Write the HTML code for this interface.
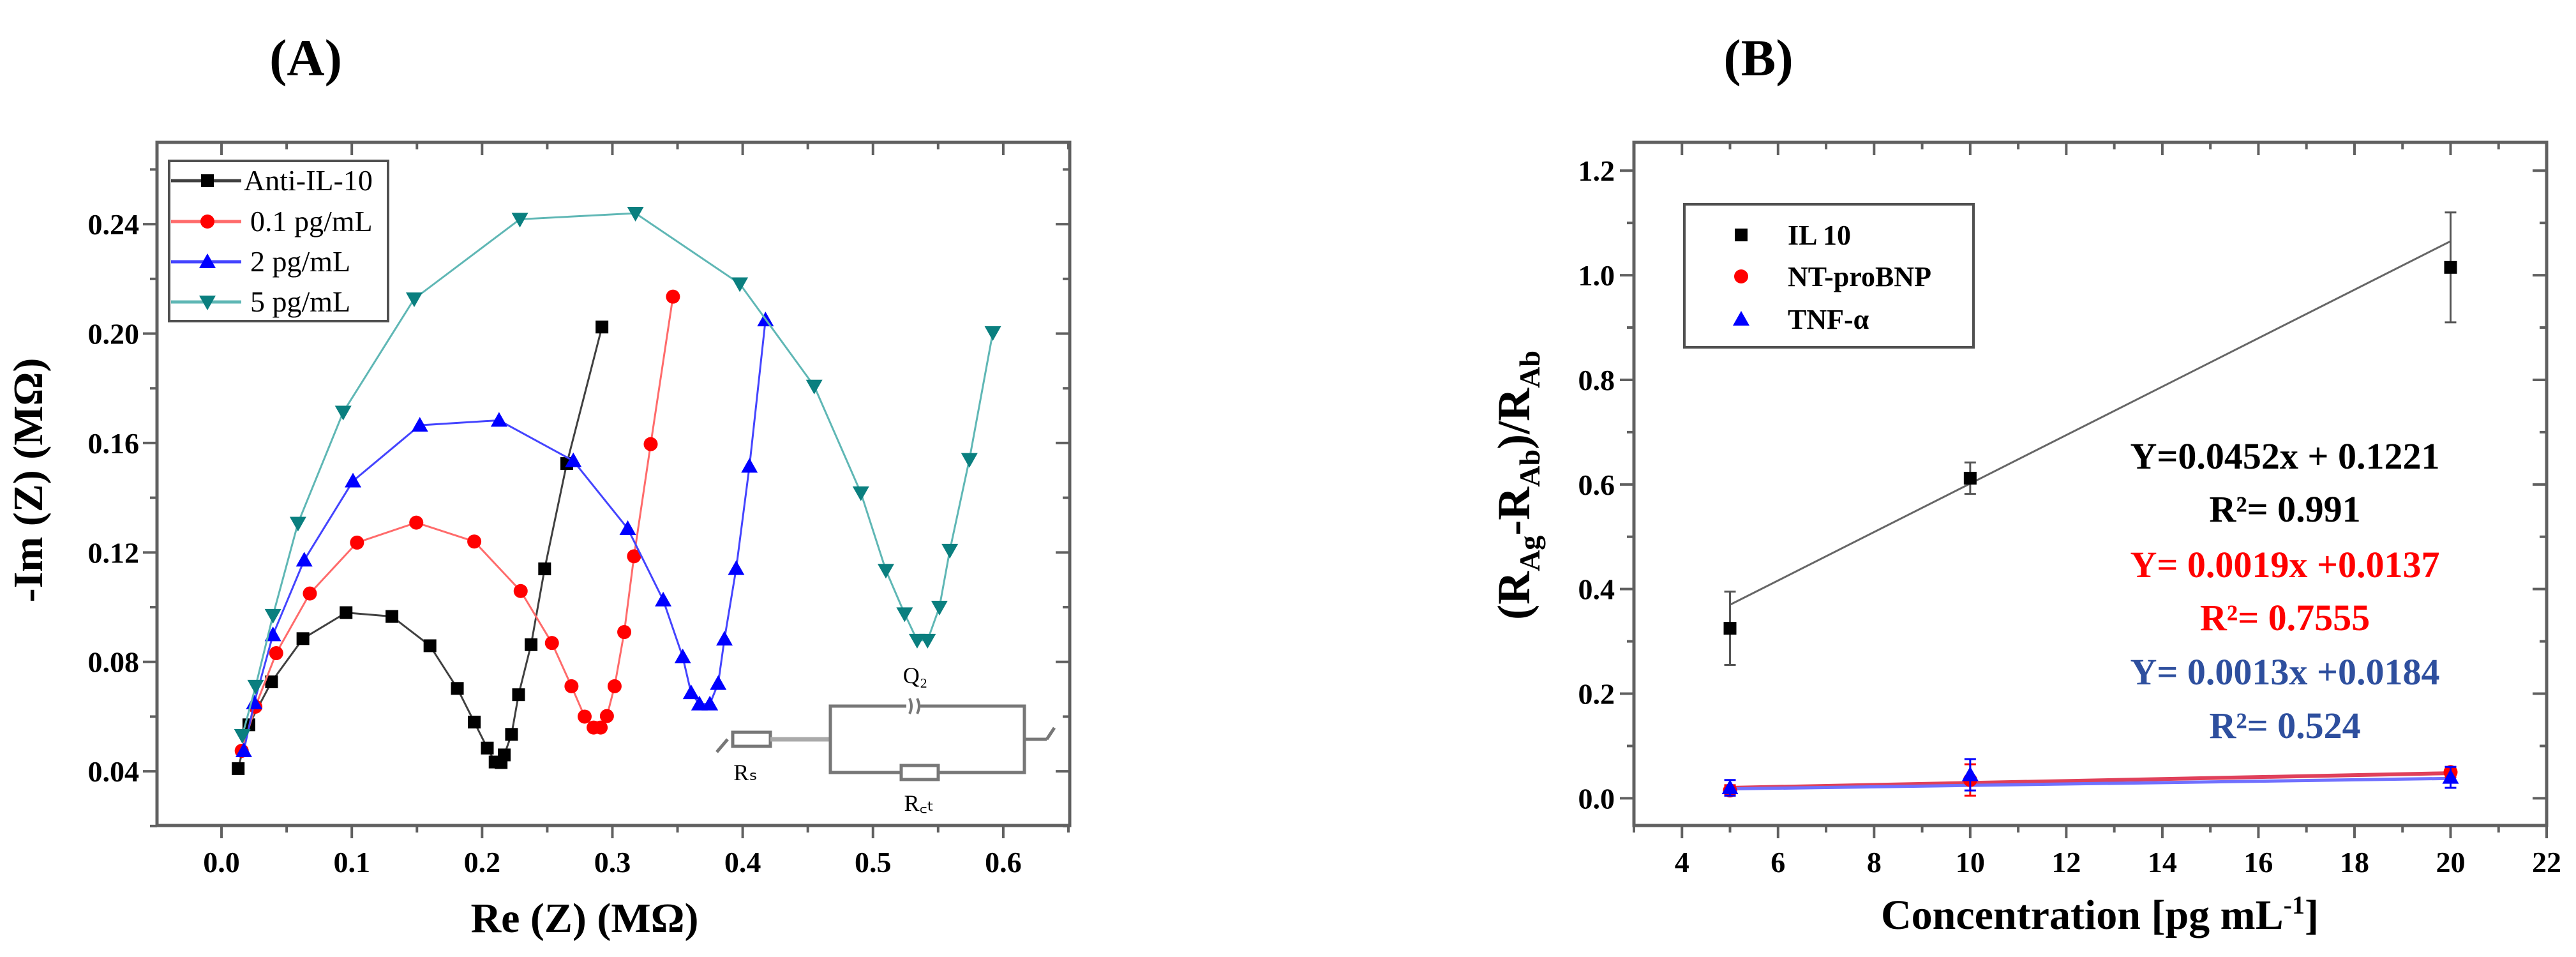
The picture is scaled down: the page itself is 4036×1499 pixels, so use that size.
<!DOCTYPE html>
<html><head><meta charset="utf-8"><style>
html,body{margin:0;padding:0;background:#fff;}
svg{display:block;font-family:"Liberation Serif",serif;}
</style></head><body>
<svg id="svg" width="4036" height="1499" viewBox="0 0 4036 1499" xmlns="http://www.w3.org/2000/svg">
<text x="479" y="118" font-size="82" font-weight="bold" text-anchor="middle">(A)</text>
<text x="2755" y="118" font-size="82" font-weight="bold" text-anchor="middle">(B)</text>
<g id="ga"></g>
<g id="gb"></g>
</svg>
<script>
// ---------- Chart A data ----------
const aSeriesNames = ["Anti-IL-10","0.1 pg/mL","2 pg/mL","5 pg/mL"];
const aBlackX = [0.0128,0.021,0.0384,0.0625,0.0956,0.1308,0.160,0.181,0.194,0.204,0.210,0.2146,0.217,0.2226,0.228,0.2376,0.248,0.265,0.292];
const aBlackY = [0.041,0.057,0.0727,0.0885,0.098,0.0966,0.0859,0.0703,0.058,0.0485,0.0434,0.0432,0.046,0.0535,0.068,0.0863,0.114,0.1525,0.2024];
const aRedX = [0.0155,0.026,0.042,0.0678,0.104,0.1495,0.194,0.2296,0.2536,0.2686,0.2787,0.2856,0.291,0.2958,0.3017,0.3091,0.3166,0.3294,0.3465];
const aRedY = [0.0475,0.0636,0.0832,0.105,0.1236,0.1309,0.124,0.1059,0.0869,0.0711,0.060,0.056,0.056,0.0602,0.0711,0.0909,0.1186,0.1596,0.2135];
const aBlueX = [0.0171,0.0251,0.0395,0.0635,0.1009,0.1522,0.213,0.270,0.3118,0.339,0.354,0.3604,0.3668,0.3748,0.3812,0.386,0.395,0.4052,0.4175];
const aBlueY = [0.0475,0.065,0.0899,0.1172,0.1461,0.1665,0.1683,0.1535,0.1287,0.1026,0.0818,0.0687,0.0646,0.0646,0.0721,0.0883,0.1141,0.1515,0.205];
const aTealX = [0.016,0.0262,0.0395,0.0587,0.0934,0.1479,0.229,0.3177,0.3978,0.4549,0.4907,0.5099,0.5243,0.5339,0.5419,0.551,0.559,0.574,0.592];
const aTealY = [0.0531,0.0711,0.097,0.1307,0.1713,0.2127,0.2418,0.244,0.2182,0.1808,0.1418,0.1135,0.0976,0.0879,0.0879,0.100,0.1208,0.154,0.2004];
const aXTicks = ["0.0","0.1","0.2","0.3","0.4","0.5","0.6"];
const aYTicks = ["0.04","0.08","0.12","0.16","0.20","0.24"];
// ---------- Chart B data ----------
const bSeriesNames = ["IL 10","NT-proBNP","TNF-α"];
const bX = [5,10,20];
const bIL10 = [0.325,0.612,1.015];
const bIL10Err = [0.07,0.03,0.105];
const bNT = [0.015,0.035,0.05];
const bNTErr = [0.01,0.03,0.01];
const bTNF = [0.02,0.045,0.04];
const bTNFErr = [0.015,0.03,0.02];
const bIL10Fit = [0.37,1.065];
const bNTFit = [0.02,0.048];
const bTNFFit = [0.018,0.038];
const bXTicks = ["4","6","8","10","12","14","16","18","20","22"];
const bYTicks = ["0.0","0.2","0.4","0.6","0.8","1.0","1.2"];

const NS="http://www.w3.org/2000/svg";
function mk(parent,tag,attrs,text){const e=document.createElementNS(NS,tag);for(const k in attrs)e.setAttribute(k,attrs[k]);if(text!==undefined)e.textContent=text;parent.appendChild(e);return e;}

// ---------- Chart A ----------
const ga=document.getElementById('ga');
const A={l:246,r:1676,t:223,b:1293,x0:-0.0495,x1:0.651,y0:0.0202,y1:0.2699};
const ax=v=>A.l+(v-A.x0)/(A.x1-A.x0)*(A.r-A.l);
const ay=v=>A.b-(v-A.y0)/(A.y1-A.y0)*(A.b-A.t);
const AX="#606060";
for(let i=0;i<=13;i++){const v=i*0.05;const x=ax(v);const maj=i%2===0;
  const t1=mk(ga,'line',{x1:x,x2:x,y1:A.b,y2:A.b+(maj?20:11),stroke:AX,'stroke-width':4});
  
  mk(ga,'line',{x1:x,x2:x,y1:A.t,y2:A.t+(maj?20:11),stroke:AX,'stroke-width':4});}
aXTicks.forEach(s=>{const t=mk(ga,'text',{x:ax(parseFloat(s)),y:1366,'font-size':46,'font-weight':'bold','text-anchor':'middle'},s);
  });
for(let v=0.02;v<=0.2601;v+=0.02){const y=ay(v);const maj=Math.round(v*100)%4===0;
  mk(ga,'line',{x1:A.l,x2:A.l-(maj?22:11),y1:y,y2:y,stroke:AX,'stroke-width':4});
  mk(ga,'line',{x1:A.r,x2:A.r-(maj?22:11),y1:y,y2:y,stroke:AX,'stroke-width':4});}
aYTicks.forEach(s=>{const t=mk(ga,'text',{x:218,y:ay(parseFloat(s))+16,'font-size':46,'font-weight':'bold','text-anchor':'end'},s);
  });
const fa=mk(ga,'rect',{x:A.l,y:A.t,width:A.r-A.l,height:A.b-A.t,fill:'none',stroke:AX,'stroke-width':5});

const xta=mk(ga,'text',{x:916,y:1460,'font-size':66,'font-weight':'bold','text-anchor':'middle'},'Re (Z) (MΩ)');

const yta=mk(ga,'text',{x:0,y:0,'font-size':66,'font-weight':'bold','text-anchor':'middle',transform:'translate(66,752) rotate(-90)'},'-Im (Z) (MΩ)');


function markerA(g,type,x,y,c){
  if(type==='sq')return mk(g,'rect',{x:x-10,y:y-10,width:20,height:20,fill:c});
  if(type==='ci')return mk(g,'circle',{cx:x,cy:y,r:11,fill:c});
  if(type==='up')return mk(g,'polygon',{points:`${x},${y-13} ${x-13},${y+10} ${x+13},${y+10}`,fill:c});
  return mk(g,'polygon',{points:`${x},${y+13} ${x-13},${y-10} ${x+13},${y-10}`,fill:c});
}
const aSets=[[aBlackX,aBlackY,'#000','#404040','sq','series-anti-il10'],[aRedX,aRedY,'#ff0000','#ff6b6b','ci','series-0-1-pgml'],
  [aBlueX,aBlueY,'#0000ff','#4444ff','up','series-2-pgml'],[aTealX,aTealY,'#0a7f7f','#5fb7b5','dn','series-5-pgml']];
aSets.forEach(([X,Y,c,lc,m,name])=>{
  const g=mk(ga,'g',{});
  mk(g,'polyline',{points:X.map((v,i)=>ax(v)+','+ay(Y[i])).join(' '),fill:'none',stroke:lc,'stroke-width':3});
  X.forEach((v,i)=>{const p=markerA(g,m,ax(v),ay(Y[i]),c);});
});
// legend A
const la=mk(ga,'g',{});
mk(la,'rect',{x:265,y:252,width:343,height:251,fill:'#fff',stroke:'#505050','stroke-width':4});
const lRows=[283,347,410,473];
aSets.forEach((s,i)=>{const y=lRows[i];
  const g=mk(la,'g',{});
  mk(g,'line',{x1:268,x2:378,y1:y,y2:y,stroke:s[3],'stroke-width':5});
  markerA(g,s[4],325,y,s[2]);
  mk(g,'text',{x:i===0?382:392,y:y+15,'font-size':46},aSeriesNames[i]);});
// circuit inset
const ci=mk(ga,'g',{stroke:'#777','stroke-width':5,fill:'none'});
mk(ci,'line',{x1:1123,y1:1178,x2:1140,y2:1158});
mk(ci,'rect',{x:1148,y:1147,width:59,height:22,fill:'#fff'});
mk(ci,'line',{x1:1207,y1:1158,x2:1301,y2:1158,'stroke-width':7,stroke:'#aaa'});
mk(ci,'rect',{x:1301,y:1106,width:304,height:104});
mk(ci,'rect',{x:1420,y:1098,width:22,height:16,fill:'#fff',stroke:'none'});
mk(ci,'path',{d:'M1425,1094 q6,12 0,24 M1437,1094 q6,12 0,24','stroke-width':4});
mk(ci,'rect',{x:1412,y:1199,width:58,height:22,fill:'#fff'});
mk(ci,'line',{x1:1605,y1:1158,x2:1640,y2:1158});
mk(ci,'line',{x1:1640,y1:1158,x2:1652,y2:1140});
mk(ga,'text',{x:1434,y:1070,'font-size':36,'text-anchor':'middle'},'Q₂');
mk(ga,'text',{x:1168,y:1222,'font-size':36,'text-anchor':'middle'},'Rₛ');
mk(ga,'text',{x:1440,y:1270,'font-size':36,'text-anchor':'middle'},'R꜀ₜ');

// ---------- Chart B ----------
const gb=document.getElementById('gb');
const B={l:2560,r:3990,t:223,b:1293,x0:3,x1:22,y0:-0.052,y1:1.254};
const bx=v=>B.l+(v-B.x0)/(B.x1-B.x0)*(B.r-B.l);
const by=v=>B.b-(v-B.y0)/(B.y1-B.y0)*(B.b-B.t);
for(let v=3;v<=22;v++){const x=bx(v);const maj=v%2===0;
  mk(gb,'line',{x1:x,x2:x,y1:B.b,y2:B.b+(maj?20:11),stroke:AX,'stroke-width':4});
  mk(gb,'line',{x1:x,x2:x,y1:B.t,y2:B.t+(maj?20:11),stroke:AX,'stroke-width':4});}
bXTicks.forEach(s=>{const t=mk(gb,'text',{x:bx(parseFloat(s)),y:1366,'font-size':46,'font-weight':'bold','text-anchor':'middle'},s);
  });
for(let i=0;i<=12;i++){const v=i*0.1;const y=by(v);const maj=i%2===0;
  mk(gb,'line',{x1:B.l,x2:B.l-(maj?22:11),y1:y,y2:y,stroke:AX,'stroke-width':4});
  mk(gb,'line',{x1:B.r,x2:B.r-(maj?22:11),y1:y,y2:y,stroke:AX,'stroke-width':4});}
bYTicks.forEach(s=>{const t=mk(gb,'text',{x:2530,y:by(parseFloat(s))+16,'font-size':46,'font-weight':'bold','text-anchor':'end'},s);
  });
const fb=mk(gb,'rect',{x:B.l,y:B.t,width:B.r-B.l,height:B.b-B.t,fill:'none',stroke:AX,'stroke-width':5});

const xtb=mk(gb,'text',{x:3290,y:1455,'font-size':66,'font-weight':'bold','text-anchor':'middle'});

xtb.innerHTML='Concentration [pg mL<tspan dy="-24" font-size="40">-1</tspan><tspan dy="24">]</tspan>';
const ytb=mk(gb,'text',{x:0,y:0,'font-size':72,'font-weight':'bold','text-anchor':'middle',transform:'translate(2396,760) rotate(-90)'});

ytb.innerHTML='(R<tspan dy="16" font-size="46">Ag</tspan><tspan dy="-16">-R</tspan><tspan dy="16" font-size="46">Ab</tspan><tspan dy="-16">)/R</tspan><tspan dy="16" font-size="46">Ab</tspan>';

function fitLine(fit,col,w,name){const l=mk(gb,'line',{x1:bx(bX[0]),y1:by(fit[0]),x2:bx(bX[bX.length-1]),y2:by(fit[1]),stroke:col,'stroke-width':w});
  }
fitLine(bIL10Fit,'#666',3,'fit-line-il10');
fitLine(bNTFit,'#e0405a',6,'fit-line-nt-probnp');
fitLine(bTNFFit,'#7070ff',5,'fit-line-tnf');
function series(Y,E,c,m,name){const g=mk(gb,'g',{});
  bX.forEach((v,i)=>{const x=bx(v);
    mk(g,'line',{x1:x,x2:x,y1:by(Y[i]-E[i]),y2:by(Y[i]+E[i]),stroke:c==='#000'?'#555':c,'stroke-width':3});
    mk(g,'line',{x1:x-9,x2:x+9,y1:by(Y[i]-E[i]),y2:by(Y[i]-E[i]),stroke:c==='#000'?'#555':c,'stroke-width':3});
    mk(g,'line',{x1:x-9,x2:x+9,y1:by(Y[i]+E[i]),y2:by(Y[i]+E[i]),stroke:c==='#000'?'#555':c,'stroke-width':3});
    const p=markerA(g,m,x,by(Y[i]),c);});}
series(bIL10,bIL10Err,'#000','sq','series-il10');
series(bNT,bNTErr,'#ff0000','ci','series-nt-probnp');
series(bTNF,bTNFErr,'#0000ff','up','series-tnf');
// legend B
const lb=mk(gb,'g',{});
mk(lb,'rect',{x:2639,y:320,width:453,height:224,fill:'#fff',stroke:'#505050','stroke-width':4});
const bRows=[368,433,500];const bCols=['#000','#ff0000','#0000ff'];const bM=['sq','ci','up'];
bSeriesNames.forEach((s,i)=>{const g=mk(lb,'g',{});
  markerA(g,bM[i],2728,bRows[i],bCols[i]);
  mk(g,'text',{x:2801,y:bRows[i]+15,'font-size':44,'font-weight':'bold'},s);});
// equations
const eqs=[['Y=0.0452x + 0.1221','#000',714],['R²= 0.991','#000',797],['Y= 0.0019x +0.0137','#ff0000',884],['R²= 0.7555','#ff0000',967],['Y= 0.0013x +0.0184','#2e4f9e',1052],['R²= 0.524','#2e4f9e',1136]];
eqs.forEach(([t,c,y],i)=>{const e=mk(gb,'text',{x:3580,y:y+20,'font-size':58,'font-weight':'bold',fill:c,'text-anchor':'middle'},t);
  });
</script>
</body></html>
